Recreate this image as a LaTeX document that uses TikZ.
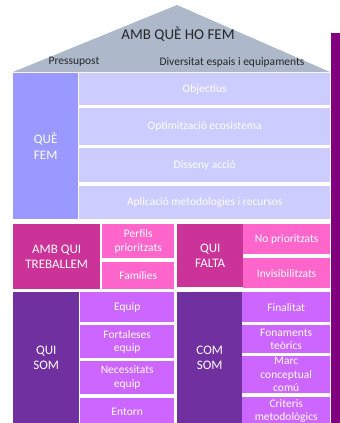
\documentclass[tikz,border=0pt]{standalone}
\usepackage{fontspec}
\setmainfont{Carlito}
\usetikzlibrary{positioning, calc, shapes}

\definecolor{roofgrey}{HTML}{ADB9CA}
\definecolor{fempurple}{HTML}{9999FF}
\definecolor{femlight}{HTML}{CCCCFF}
\definecolor{quimagenta}{HTML}{CC3399}
\definecolor{quipink}{HTML}{FF66CC}
\definecolor{somdark}{HTML}{7030A0}
\definecolor{somlight}{HTML}{CC66FF}
\definecolor{sidebar}{HTML}{800080}

\begin{document}
\begin{tikzpicture}[x=1pt, y=-1pt,
		cell/.style = {rectangle, anchor=north west, inner sep=0pt, align=center, text=white, font=\fontsize{11.5}{13.5}\selectfont},
		head/.style = {cell, font=\fontsize{13}{15.5}\selectfont},
		rooftext/.style = {text=black!85, inner sep=0pt, font=\fontsize{11.5}{13.5}\selectfont}]
	\useasboundingbox (0,0) rectangle (340,423);
	\clip (0,0) rectangle (340,423);

	% teulada
	\fill[roofgrey] (13,72) -- (177,5) -- (330,72) -- cycle;
	\node[rooftext, font=\fontsize{15}{18}\selectfont] (titol) at (178,34) {AMB QUÈ HO FEM};
	\node[rooftext] (pressupost) at (74,62) {Pressupost};
	\node[rooftext] (diversitat) at (232,62) {Diversitat espais i equipaments};

	% barra lateral
	\fill[sidebar] (331,33) rectangle (340,423);

	% que fem
	\node[head, fill=fempurple, minimum width=65pt, minimum height=146pt] (quefem) at (13,73) {QUÈ\\FEM};
	\node[cell, fill=femlight, minimum width=251pt, minimum height=32pt] (objectius) at (79,73) {Objectius};
	\node[cell, fill=femlight, minimum width=251pt, minimum height=37pt] (optimitzacio) at (79,108) {Optimització ecosistema};
	\node[cell, fill=femlight, minimum width=251pt, minimum height=34pt] (disseny) at (79,148) {Disseny acció};
	\node[cell, fill=femlight, minimum width=251pt, minimum height=33pt] (aplicacio) at (79,186) {Aplicació metodologies i recursos};

	% amb qui treballem / qui falta
	\node[head, fill=quimagenta, minimum width=87pt, minimum height=65pt] (ambqui) at (13,224) {AMB QUI\\TREBALLEM};
	\node[cell, fill=quipink, minimum width=72pt, minimum height=34pt] (perfils) at (102,224) {Perfils\\prioritzats};
	\node[cell, fill=quipink, minimum width=72pt, minimum height=27pt] (families) at (102,262) {Famílies};
	\node[head, fill=quimagenta, minimum width=66pt, minimum height=63pt] (quifalta) at (177,224) {QUI\\FALTA};
	\node[cell, fill=quipink, minimum width=87pt, minimum height=30pt] (noprio) at (243,224) {No prioritzats};
	\node[cell, fill=quipink, minimum width=87pt, minimum height=30pt] (invisib) at (243,258) {Invisibilitzats};

	% qui som / com som
	\node[head, fill=somdark, minimum width=66pt, minimum height=131pt] (quisom) at (13,292) {QUI\\SOM};
	\node[cell, fill=somlight, minimum width=94pt, minimum height=30pt] (equip) at (80,292) {Equip};
	\node[cell, fill=somlight, minimum width=94pt, minimum height=33pt] (fortaleses) at (80,325) {Fortaleses\\equip};
	\node[cell, fill=somlight, minimum width=94pt, minimum height=33pt] (necessitats) at (80,361) {Necessitats\\equip};
	\node[cell, fill=somlight, minimum width=94pt, minimum height=27pt] (entorn) at (80,398) {Entorn};
	\node[head, fill=somdark, minimum width=65pt, minimum height=131pt] (comsom) at (177,292) {COM\\SOM};
	\node[cell, fill=somlight, minimum width=88pt, minimum height=30pt] (finalitat) at (242,292) {Finalitat};
	\node[cell, fill=somlight, minimum width=88pt, minimum height=28pt] (fonaments) at (242,325) {Fonaments\\teòrics};
	\node[cell, fill=somlight, minimum width=88pt, minimum height=37pt] (marc) at (242,356) {Marc\\conceptual\\comú};
	\node[cell, fill=somlight, minimum width=88pt, minimum height=28pt] (criteris) at (242,397) {Criteris\\metodològics};
\end{tikzpicture}
\end{document}
